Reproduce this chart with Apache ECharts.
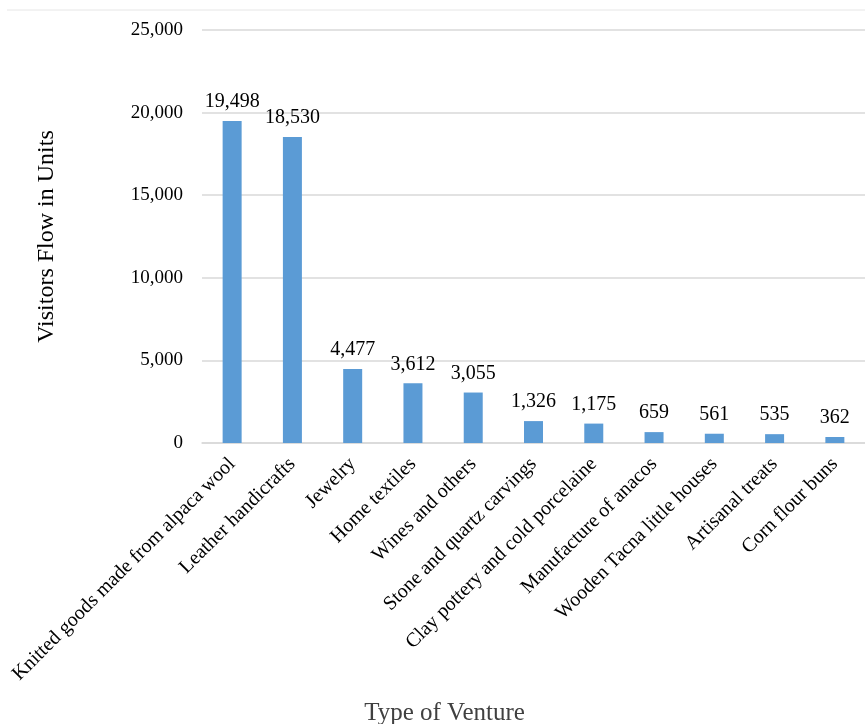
<!DOCTYPE html>
<html>
<head>
<meta charset="utf-8">
<script src="https://cdn.jsdelivr.net/npm/echarts@6/dist/echarts.min.js"></script>
<style>
  html, body { margin: 0; padding: 0; background: #fff; }
  #chart { width: 865px; height: 724px; }
</style>
</head>
<body>
<div id="chart"></div>
<script>
const categories = [
  "Knitted goods made from alpaca wool",
  "Leather handicrafts",
  "Jewelry",
  "Home textiles",
  "Wines and others",
  "Stone and quartz carvings",
  "Clay pottery and cold porcelaine",
  "Manufacture of anacos",
  "Wooden Tacna little houses",
  "Artisanal treats",
  "Corn flour buns"
];
const visitors = [19498, 18530, 4477, 3612, 3055, 1326, 1175, 659, 561, 535, 362];

const font = "'Liberation Serif', 'Times New Roman', serif";
const chart = echarts.init(document.getElementById("chart"));

chart.setOption({
  animation: false,
  textStyle: { fontFamily: font, color: "#000" },
  grid: { left: 202, right: 0, top: 30, bottom: 281, outerBoundsMode: "none" },
  graphic: [{
    type: "line",
    shape: { x1: 7, y1: 10, x2: 865, y2: 10 },
    style: { stroke: "#e6e6e6", lineWidth: 1 }
  }],
  xAxis: {
    type: "category",
    data: categories,
    name: "Type of Venture",
    nameLocation: "middle",
    nameGap: 258,
    nameTextStyle: { fontFamily: font, fontSize: 25, color: "#404040", padding: [0, 178, 0, 0] },
    axisLine: { lineStyle: { color: "#d9d9d9", width: 1.5 } },
    axisTick: { show: false },
    axisLabel: {
      interval: 0,
      rotate: 45,
      margin: 18,
      fontFamily: font,
      fontSize: 20,
      color: "#000"
    }
  },
  yAxis: {
    type: "value",
    min: 0,
    max: 25000,
    interval: 5000,
    name: "Visitors Flow in Units",
    nameLocation: "middle",
    nameGap: 143,
    nameTextStyle: { fontFamily: font, fontSize: 24, color: "#000" },
    axisLine: { show: false },
    axisTick: { show: false },
    splitLine: { lineStyle: { color: "#d9d9d9", width: 1.5 } },
    axisLabel: {
      margin: 19,
      fontFamily: font,
      fontSize: 19,
      color: "#000",
      formatter: (v) => v.toLocaleString("en-US")
    }
  },
  series: [{
    type: "bar",
    data: visitors,
    barWidth: 19,
    itemStyle: { color: "#5b9bd5" },
    label: {
      show: true,
      position: "top",
      distance: 9,
      fontFamily: font,
      fontSize: 20,
      color: "#000",
      formatter: (p) => p.value.toLocaleString("en-US")
    }
  }]
});
</script>
</body>
</html>
